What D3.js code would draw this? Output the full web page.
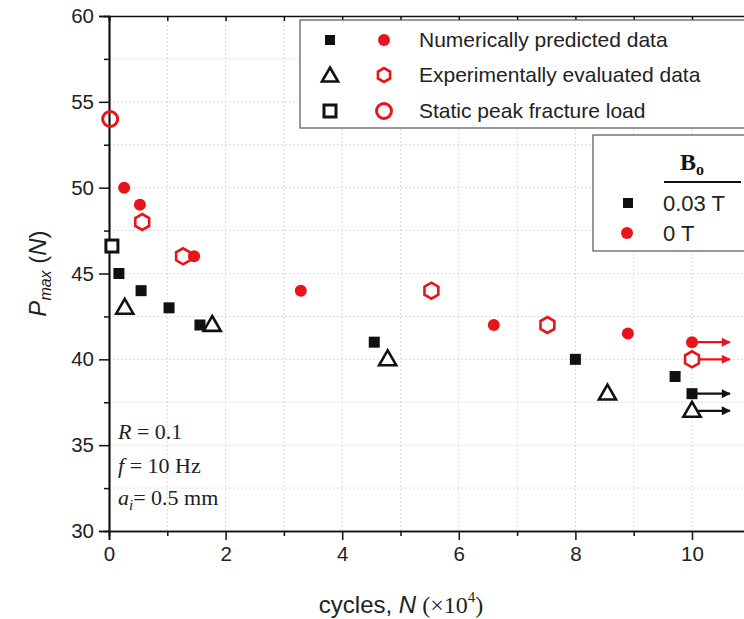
<!DOCTYPE html>
<html>
<head>
<meta charset="utf-8">
<script src="https://cdn.jsdelivr.net/npm/d3@7"></script>
<style>
  body { margin: 0; background: #fff; }
  svg { display: block; }
</style>
</head>
<body>
<div id="chart"></div>
<script>
// data: cycles N (x10^4), Pmax (N)
const numSquareN = [0.17, 0.55, 1.03, 1.56, 4.55, 8.0, 9.71, 10];
const numSquareP = [45, 44, 43, 42, 41, 40, 39, 38];
const numCircleN = [0.26, 0.53, 1.46, 3.29, 6.6, 8.9, 10];
const numCircleP = [50, 49, 46, 44, 42, 41.5, 41];
const expHexN = [0.57, 1.27, 5.53, 7.52, 10];
const expHexP = [48, 46, 44, 42, 40];
const expTriN = [0.27, 1.77, 4.78, 8.55, 10];
const expTriP = [43, 42, 40, 38, 37];
const staticSquare = { N: 0.05, P: 46.6 };
const staticCircle = { N: 0.02, P: 54 };
const runoutP = { red: [41, 40], black: [38, 37] };
const yTicks = [30, 35, 40, 45, 50, 55, 60];
const xTicks = [0, 2, 4, 6, 8, 10];
const legendRows = ["Numerically predicted data", "Experimentally evaluated data", "Static peak fracture load"];
const fieldRows = ["0.03 T", "0 T"];

const W = 744, H = 619;
const margin = { top: 16, left: 109, bottom: 88 };
const red = "#e8141b";
const fontSans = "Liberation Sans, Arial, sans-serif";
const fontSerif = "Liberation Serif, Times New Roman, serif";

const svg = d3.select("#chart").append("svg")
    .attr("width", W).attr("height", H);

const x = d3.scaleLinear().domain([0, 11]).range([margin.left, margin.left + 11 * 58.3]);
const y = d3.scaleLinear().domain([30, 60]).range([H - margin.bottom, margin.top]);
const x0 = x.range()[0], x1 = x.range()[1], y0 = y.range()[0], y1 = y.range()[1];

// dotted grid
const grid = svg.append("g").attr("stroke", "#dcdcdc").attr("stroke-dasharray", "2,2").attr("stroke-width", 1);
d3.range(1, 11).forEach(v => grid.append("line").attr("x1", x(v)).attr("x2", x(v)).attr("y1", y0).attr("y2", y1));
d3.range(32.5, 60, 2.5).forEach(v => grid.append("line").attr("x1", x0).attr("x2", x1).attr("y1", y(v)).attr("y2", y(v)));

// axes
const xAxis = d3.axisBottom(x).tickValues(xTicks).tickSize(9).tickPadding(6).tickFormat(d3.format("d"));
const xMinor = d3.axisBottom(x).tickValues([1, 3, 5, 7, 9, 11]).tickSize(5).tickFormat("");
const yAxis = d3.axisLeft(y).tickValues(yTicks).tickSize(10).tickPadding(5);
const yMinor = d3.axisLeft(y).tickValues(d3.range(32.5, 60, 5)).tickSize(5).tickFormat("");

function styleAxis(g) {
    g.select(".domain").attr("stroke", "#111").attr("stroke-width", 1.7);
    g.selectAll(".tick line").attr("stroke", "#111").attr("stroke-width", 1.5);
}
svg.append("g").attr("transform", `translate(0,${y0})`).call(xAxis).call(styleAxis);
svg.append("g").attr("transform", `translate(0,${y0})`).call(xMinor).call(styleAxis);
svg.append("g").attr("transform", `translate(${x0},0)`).call(yAxis).call(styleAxis);
svg.append("g").attr("transform", `translate(${x0},0)`).call(yMinor).call(styleAxis);
svg.append("g").attr("transform", `translate(0,${y1})`)
    .call(d3.axisBottom(x).tickValues(d3.range(0, 12)).tickSize(5).tickFormat("")).call(styleAxis);
svg.append("g").attr("transform", `translate(${x1},0)`)
    .call(d3.axisRight(y).tickValues(d3.range(30, 61, 2.5)).tickSize(-5).tickFormat("")).call(styleAxis);
svg.selectAll(".tick text").attr("font-family", fontSans).attr("font-size", 20.5).attr("fill", "#222");

// axis titles
const yt = svg.append("text")
    .attr("transform", `translate(46,${(y0 + y1) / 2}) rotate(-90)`)
    .attr("text-anchor", "middle")
    .attr("font-family", fontSans).attr("font-size", 24).attr("fill", "#222");
yt.append("tspan").attr("font-style", "italic").text("P");
yt.append("tspan").attr("font-style", "italic").attr("font-size", 16).attr("dy", 5).text("max");
yt.append("tspan").attr("dy", -5).text(" (");
yt.append("tspan").attr("font-style", "italic").text("N");
yt.append("tspan").text(")");

const xt = svg.append("text")
    .attr("x", 401).attr("y", 613).attr("text-anchor", "middle")
    .attr("font-family", fontSans).attr("font-size", 24).attr("fill", "#222");
xt.append("tspan").text("cycles, ");
xt.append("tspan").attr("font-style", "italic").text("N");
xt.append("tspan").attr("font-family", fontSerif).text(" (\u00d710");
xt.append("tspan").attr("font-family", fontSerif).attr("font-size", 15).attr("dy", -11).text("4");
xt.append("tspan").attr("font-family", fontSerif).attr("dy", 11).text(")");

// marker helpers
const sq = (g, cx, cy, s) => g.append("rect").attr("x", cx - s / 2).attr("y", cy - s / 2).attr("width", s).attr("height", s);
const hexPath = r => d3.line()(d3.range(6).map(i => [r * Math.cos(Math.PI / 6 + i * Math.PI / 3), r * Math.sin(Math.PI / 6 + i * Math.PI / 3)])) + "Z";
const triPath = r => d3.line()([[0, -r], [r * 0.95, r * 0.65], [-r * 0.95, r * 0.65]]) + "Z";

svg.append("defs").selectAll("marker").data([["arR", red], ["arK", "#111"]]).enter()
    .append("marker").attr("id", d => d[0])
    .attr("viewBox", "0 0 10 10").attr("refX", 9).attr("refY", 5)
    .attr("markerUnits", "userSpaceOnUse")
    .attr("markerWidth", 14).attr("markerHeight", 9).attr("orient", "auto")
    .append("path").attr("d", "M0,0L10,5L0,10Z").attr("fill", d => d[1]);

// run-out arrows
const arrows = svg.append("g").attr("stroke-width", 2.2);
runoutP.red.forEach(p => arrows.append("line").attr("x1", x(10)).attr("x2", x(10.65)).attr("y1", y(p)).attr("y2", y(p))
    .attr("stroke", red).attr("marker-end", "url(#arR)"));
runoutP.black.forEach(p => arrows.append("line").attr("x1", x(10)).attr("x2", x(10.65)).attr("y1", y(p)).attr("y2", y(p))
    .attr("stroke", "#111").attr("marker-end", "url(#arK)"));

const pts = svg.append("g");
// static peak loads
sq(pts, x(staticSquare.N), y(staticSquare.P), 12).attr("fill", "#fff").attr("stroke", "#111").attr("stroke-width", 3);
pts.append("circle").attr("cx", x(staticCircle.N)).attr("cy", y(staticCircle.P)).attr("r", 7.5)
    .attr("fill", "none").attr("stroke", red).attr("stroke-width", 3);
// experimental
expHexN.forEach((n, i) => pts.append("path").attr("d", hexPath(8)).attr("transform", `translate(${x(n)},${y(expHexP[i])})`)
    .attr("fill", "#fff").attr("stroke", red).attr("stroke-width", 2.6));
expTriN.forEach((n, i) => pts.append("path").attr("d", triPath(9)).attr("transform", `translate(${x(n)},${y(expTriP[i])})`)
    .attr("fill", "#fff").attr("stroke", "#111").attr("stroke-width", 2.6));
// numerical
numSquareN.forEach((n, i) => sq(pts, x(n), y(numSquareP[i]), 11).attr("fill", "#111"));
numCircleN.forEach((n, i) => pts.append("circle").attr("cx", x(n)).attr("cy", y(numCircleP[i])).attr("r", 6).attr("fill", red));

// legend 1
const lg = svg.append("g");
lg.append("rect").attr("x", 300).attr("y", 20).attr("width", 460).attr("height", 108)
    .attr("fill", "#fff").attr("stroke", "#555").attr("stroke-width", 1.2);
const rowY = [40, 75, 111];
sq(lg, 330, rowY[0], 10).attr("fill", "#111");
lg.append("circle").attr("cx", 384).attr("cy", rowY[0]).attr("r", 6).attr("fill", red);
lg.append("path").attr("d", triPath(8.5)).attr("transform", `translate(330,${rowY[1] + 1})`)
    .attr("fill", "#fff").attr("stroke", "#111").attr("stroke-width", 2.6);
lg.append("path").attr("d", hexPath(7)).attr("transform", `translate(384,${rowY[1]})`)
    .attr("fill", "#fff").attr("stroke", red).attr("stroke-width", 2.6);
sq(lg, 330, rowY[2], 12).attr("fill", "#fff").attr("stroke", "#111").attr("stroke-width", 3);
lg.append("circle").attr("cx", 384).attr("cy", rowY[2]).attr("r", 7.5).attr("fill", "none").attr("stroke", red).attr("stroke-width", 3);
legendRows.forEach((t, i) => lg.append("text").attr("x", 419).attr("y", rowY[i] + 7)
    .attr("font-family", fontSans).attr("font-size", 21).attr("fill", "#222").text(t));

// legend 2: field
const lf = svg.append("g");
lf.append("rect").attr("x", 593).attr("y", 135).attr("width", 170).attr("height", 116)
    .attr("fill", "#fff").attr("stroke", "#555").attr("stroke-width", 1.2);
const bt = lf.append("text").attr("x", 692).attr("y", 170).attr("text-anchor", "middle")
    .attr("font-family", fontSerif).attr("font-weight", "bold").attr("font-size", 24).attr("fill", "#111");
bt.append("tspan").text("B");
bt.append("tspan").attr("font-size", 16).attr("dy", 5).text("o");
lf.append("line").attr("x1", 664).attr("x2", 741).attr("y1", 182).attr("y2", 182).attr("stroke", "#111").attr("stroke-width", 1.8);
sq(lf, 628, 203, 10).attr("fill", "#111");
lf.append("circle").attr("cx", 627).attr("cy", 233).attr("r", 6).attr("fill", red);
fieldRows.forEach((t, i) => lf.append("text").attr("x", 663).attr("y", 211 + i * 30)
    .attr("font-family", fontSans).attr("font-size", 22).attr("fill", "#222").text(t));

// test conditions
const cond = svg.append("g").attr("font-family", "Liberation Serif, Cambria, serif").attr("font-size", 22).attr("fill", "#222");
const c1 = cond.append("text").attr("x", 118).attr("y", 439);
c1.append("tspan").attr("font-style", "italic").text("R");
c1.append("tspan").text(" = 0.1");
const c2 = cond.append("text").attr("x", 118).attr("y", 473);
c2.append("tspan").attr("font-style", "italic").text("f");
c2.append("tspan").text(" = 10 Hz");
const c3 = cond.append("text").attr("x", 118).attr("y", 505);
c3.append("tspan").attr("font-style", "italic").text("a");
c3.append("tspan").attr("font-style", "italic").attr("font-size", 15).attr("dy", 5).text("i");
c3.append("tspan").attr("dy", -5).text("= 0.5 mm");
</script>
</body>
</html>
